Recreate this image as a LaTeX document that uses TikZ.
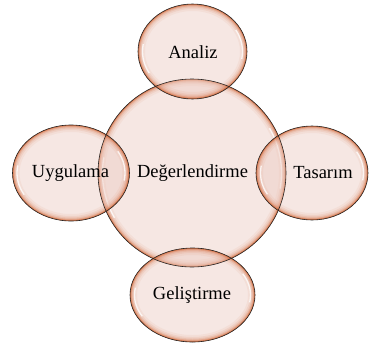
\documentclass[tikz,border=0pt]{standalone}
\usepackage{fontspec}
\setmainfont{Liberation Serif}
\usetikzlibrary{shapes.geometric}
\definecolor{pinkfill}{HTML}{EDCBC2}
\definecolor{glowc}{HTML}{D0561F}
\begin{document}
\begin{tikzpicture}[x=1pt,y=-1pt,
  blob/.style={ellipse, draw=black!85, line width=0.6pt, inner sep=0pt},
  lbl/.style={font=\fontsize{18.5}{22}\selectfont, text=black, inner sep=0pt}]
\useasboundingbox[fill=white] (0,0) rectangle (369,343);
\foreach \cx/\cy/\rx/\ry in {192/173/94/94, 192.5/51.5/54.5/47.5, 71/173/58.5/48, 312/173/56/47, 192.5/295/62.5/47}{
  \fill[pinkfill, fill opacity=0.45] (\cx,\cy) ellipse [x radius=\rx, y radius=\ry];
  \begin{scope}
    \clip (\cx,\cy) ellipse [x radius=\rx, y radius=\ry];
    \foreach \w/\o in {14/0.06, 10/0.09, 7/0.13, 4.5/0.22, 2.5/0.35, 1.2/0.5}
      \draw[glowc, line width=\w pt, draw opacity=\o] (\cx,\cy) ellipse [x radius=\rx, y radius=\ry];
  \end{scope}
  \draw[white, line width=1.3pt, draw opacity=0.8] ([shift={(150:{\rx-4.5} and {\ry-4.5})}]\cx,\cy) arc[start angle=150, end angle=190, x radius={\rx-4.5}, y radius={\ry-4.5}];
  \draw[white, line width=1.3pt, draw opacity=0.8] ([shift={(-30:{\rx-4.5} and {\ry-4.5})}]\cx,\cy) arc[start angle=-30, end angle=10, x radius={\rx-4.5}, y radius={\ry-4.5}];
}
\node[blob, minimum width=188pt, minimum height=188pt] (deg) at (192,173) {};
\node[blob, minimum width=109pt, minimum height=95pt] (ana) at (192.5,51.5) {};
\node[blob, minimum width=117pt, minimum height=96pt] (uyg) at (71,173) {};
\node[blob, minimum width=112pt, minimum height=94pt] (tas) at (312,173) {};
\node[blob, minimum width=125pt, minimum height=94pt] (gel) at (192.5,295) {};
\node[lbl] (tdeg) at (192.5,173) {Değerlendirme};
\node[lbl] (tana) at (193,52) {Analiz};
\node[lbl] (tuyg) at (70.5,173) {Uygulama};
\node[lbl] (ttas) at (323,173) {Tasarım};
\node[lbl] (tgel) at (192,295) {Geliştirme};
\end{tikzpicture}
\end{document}
